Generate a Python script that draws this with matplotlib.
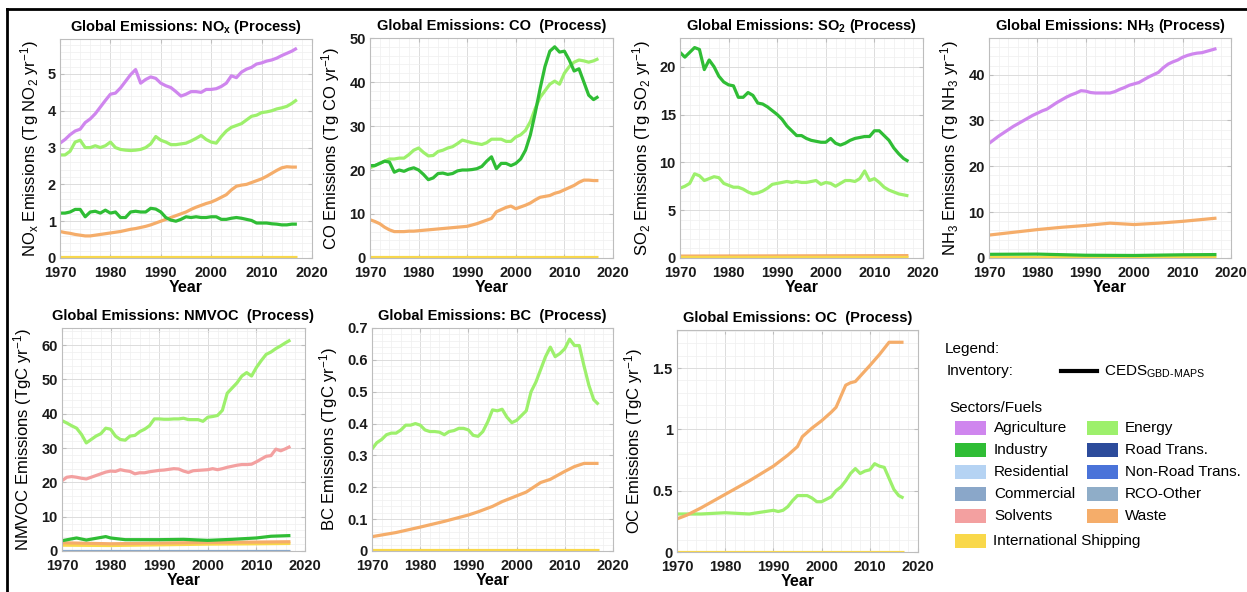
import matplotlib
matplotlib.use("Agg")
import matplotlib.pyplot as plt
from matplotlib.ticker import AutoMinorLocator, FuncFormatter, MultipleLocator
from matplotlib.lines import Line2D
from matplotlib.patches import Rectangle

plt.rcParams['font.family'] = ['Liberation Sans', 'DejaVu Sans']
plt.rcParams['mathtext.fontset'] = 'custom'
plt.rcParams['mathtext.rm'] = 'Liberation Sans'
plt.rcParams['mathtext.bf'] = 'Liberation Sans:bold'
plt.rcParams['mathtext.it'] = 'Liberation Sans:italic'
plt.rcParams['mathtext.default'] = 'regular'

# ---------------- data ----------------
years = list(range(1970, 2018))

nox_agriculture = [3.12, 3.22, 3.35, 3.45, 3.5, 3.68, 3.78, 3.92, 4.1, 4.28,
                   4.45, 4.48, 4.62, 4.8, 4.98, 5.12, 4.75, 4.85, 4.92, 4.88,
                   4.75, 4.68, 4.63, 4.52, 4.4, 4.45, 4.52, 4.52, 4.5, 4.58,
                   4.58, 4.6, 4.66, 4.75, 4.95, 4.9, 5.05, 5.13, 5.18, 5.27,
                   5.3, 5.35, 5.38, 5.43, 5.5, 5.56, 5.62, 5.7]
nox_energy = [2.8, 2.8, 2.9, 3.15, 3.2, 3.0, 3.0, 3.05, 3.0, 3.05,
              3.15, 3.0, 2.95, 2.93, 2.92, 2.93, 2.95, 3.0, 3.1, 3.3,
              3.2, 3.15, 3.08, 3.08, 3.1, 3.12, 3.18, 3.25, 3.33, 3.22,
              3.15, 3.12, 3.3, 3.45, 3.55, 3.6, 3.65, 3.75, 3.85, 3.88,
              3.95, 3.97, 4.0, 4.05, 4.08, 4.12, 4.2, 4.3]
nox_industry = [1.22, 1.22, 1.25, 1.32, 1.32, 1.12, 1.25, 1.27, 1.22, 1.3,
                1.22, 1.25, 1.1, 1.1, 1.25, 1.27, 1.25, 1.25, 1.35, 1.33,
                1.25, 1.1, 1.03, 1.0, 1.05, 1.12, 1.1, 1.12, 1.1, 1.1,
                1.12, 1.12, 1.05, 1.05, 1.08, 1.1, 1.08, 1.05, 1.02, 0.95,
                0.95, 0.95, 0.93, 0.92, 0.9, 0.9, 0.92, 0.92]
nox_waste = [0.72, 0.69, 0.67, 0.64, 0.62, 0.6, 0.6, 0.62, 0.64, 0.66,
             0.68, 0.7, 0.72, 0.75, 0.78, 0.8, 0.83, 0.86, 0.9, 0.95,
             1.0, 1.05, 1.1, 1.15, 1.2, 1.25, 1.32, 1.38, 1.43, 1.48,
             1.52, 1.58, 1.65, 1.72, 1.85, 1.95, 1.98, 2.0, 2.05, 2.1,
             2.15, 2.22, 2.3, 2.38, 2.45, 2.48, 2.47, 2.47]
nox_shipping_years = [1970, 2017]
nox_shipping = [0.02, 0.02]

co_industry = [21, 21, 21.5, 22, 21.8, 19.5, 20, 19.7, 20.2, 20.5,
               20, 19, 17.8, 18.2, 19.2, 19.3, 19, 19.2, 19.8, 20,
               20, 20.1, 20.3, 20.8, 22, 23, 20.3, 21.5, 21.5, 21,
               21.5, 22.5, 24.5, 28, 33, 38.5, 43.5, 47, 48, 46.8,
               47, 45, 42.5, 43, 40, 37, 36, 36.7]
co_energy = [20.5, 21, 21.5, 22, 22.5, 22.5, 22.7, 22.7, 23.5, 24.5,
             25, 24, 23.2, 23.3, 24.2, 24.5, 25, 25.3, 26, 26.8,
             26.5, 26.2, 26, 25.8, 26.2, 27, 27, 27, 26.5, 26.5,
             27.5, 28, 29, 31, 34, 36.5, 38, 39.5, 40.2, 39.5,
             42, 43.5, 44.5, 45, 44.8, 44.5, 44.8, 45.3]
co_waste = [8.7, 8.3, 7.8, 7, 6.4, 6, 6, 6, 6.1, 6.1,
            6.2, 6.3, 6.4, 6.5, 6.6, 6.7, 6.8, 6.9, 7, 7.1,
            7.2, 7.5, 7.8, 8.2, 8.6, 9, 10.5, 11, 11.5, 11.8,
            11.2, 11.6, 12, 12.5, 13.2, 13.8, 14, 14.2, 14.7, 15,
            15.5, 16, 16.5, 17.2, 17.7, 17.7, 17.6, 17.6]
co_shipping_years = [1970, 2017]
co_shipping = [0.15, 0.15]

so2_industry = [21.5, 21, 21.5, 22, 21.8, 19.7, 20.7, 20, 19, 18.4,
                18.1, 18, 16.8, 16.8, 17.3, 17, 16.2, 16.1, 15.8, 15.4,
                15, 14.5, 13.8, 13.3, 12.8, 12.8, 12.5, 12.3, 12.2, 12.1,
                12.1, 12.5, 12, 11.8, 12, 12.3, 12.5, 12.6, 12.7, 12.7,
                13.3, 13.3, 12.8, 12.3, 11.5, 10.9, 10.4, 10.1]
so2_energy = [7.3, 7.5, 7.8, 8.8, 8.6, 8.1, 8.3, 8.5, 8.4, 7.8,
              7.6, 7.4, 7.4, 7.2, 6.9, 6.7, 6.8, 7, 7.3, 7.7,
              7.8, 7.9, 8, 7.9, 8, 7.9, 7.9, 8, 8.1, 7.7,
              7.9, 7.8, 7.5, 7.8, 8.1, 8.1, 8, 8.3, 9.1, 8.1,
              8.3, 7.9, 7.4, 7.1, 6.9, 6.7, 6.6, 6.5]
so2_waste_years = [1970, 2017]
so2_waste = [0.2, 0.25]
so2_shipping_years = [1970, 2017]
so2_shipping = [0.08, 0.08]

nh3_agriculture = [25, 25.8, 26.6, 27.3, 28, 28.7, 29.3, 29.9, 30.5, 31.1,
                   31.6, 32.1, 32.5, 33.2, 33.9, 34.5, 35.1, 35.6, 36, 36.5,
                   36.4, 36.1, 36, 36, 36, 36, 36.3, 36.8, 37.2, 37.7,
                   38, 38.3, 38.9, 39.5, 40, 40.5, 41.5, 42.3, 42.8, 43.2,
                   43.8, 44.2, 44.5, 44.7, 44.8, 45.1, 45.4, 45.7]
nh3_waste_years = [1970, 1975, 1980, 1985, 1990, 1995, 2000, 2005, 2010, 2017]
nh3_waste = [5, 5.6, 6.2, 6.7, 7.1, 7.6, 7.3, 7.6, 8.0, 8.7]
nh3_industry_years = [1970, 1980, 1990, 2000, 2010, 2017]
nh3_industry = [0.8, 0.85, 0.6, 0.55, 0.7, 0.75]
nh3_shipping_years = [1970, 2017]
nh3_shipping = [0.2, 0.2]

nmvoc_energy = [38, 37.3, 36.5, 35.8, 34, 31.5, 32.5, 33.5, 34.2, 35.8,
                35.5, 33.5, 32.5, 32.3, 33.5, 33.7, 34.8, 35.5, 36.5, 38.5,
                38.5, 38.4, 38.4, 38.5, 38.5, 38.7, 38.3, 38.3, 38.3, 37.8,
                39, 39.2, 39.5, 41, 46, 47.5, 49, 51, 52, 51,
                53.5, 55.5, 57.3, 58, 59, 59.8, 60.7, 61.5]
nmvoc_solvents = [20.5, 21.5, 21.7, 21.5, 21.2, 21, 21.5, 22, 22.5, 23,
                  23.3, 23.2, 23.7, 23.4, 23.2, 22.5, 22.8, 22.8, 23.1, 23.3,
                  23.5, 23.6, 23.8, 24, 23.9, 23.3, 22.9, 23.4, 23.5, 23.6,
                  23.7, 24, 23.7, 24, 24.4, 24.7, 25, 25.2, 25.2, 25.3,
                  26, 26.8, 27.6, 27.8, 29.7, 29.2, 29.8, 30.5]
nmvoc_industry_years = [1970, 1973, 1975, 1979, 1980, 1983, 1990, 1995, 2000, 2005, 2010, 2013, 2017]
nmvoc_industry = [3, 3.8, 3.2, 4.2, 3.8, 3.3, 3.3, 3.4, 3.1, 3.4, 3.8, 4.3, 4.5]
nmvoc_waste_years = [1970, 1980, 1990, 2000, 2010, 2017]
nmvoc_waste = [2.4, 2.1, 2.3, 2.5, 2.6, 2.7]
nmvoc_shipping_years = [1970, 1980, 1990, 2000, 2010, 2017]
nmvoc_shipping = [1.7, 1.6, 1.8, 2.0, 2.1, 2.2]
nmvoc_commercial_years = [1970, 2017]
nmvoc_commercial = [0.1, 0.1]

bc_energy = [0.32, 0.34, 0.35, 0.365, 0.37, 0.37, 0.38, 0.395, 0.395, 0.4,
             0.395, 0.38, 0.375, 0.375, 0.373, 0.365, 0.375, 0.378, 0.385, 0.385,
             0.38, 0.363, 0.36, 0.375, 0.405, 0.443, 0.44, 0.445, 0.42, 0.403,
             0.41, 0.425, 0.44, 0.5, 0.53, 0.57, 0.61, 0.64, 0.61, 0.62,
             0.635, 0.665, 0.645, 0.645, 0.58, 0.52, 0.475, 0.46]
bc_waste_years = [1970, 1975, 1980, 1985, 1990, 1992, 1995, 1997, 2000, 2002,
                  2005, 2007, 2010, 2012, 2014, 2017]
bc_waste = [0.045, 0.058, 0.075, 0.093, 0.113, 0.123, 0.14, 0.155, 0.173, 0.185,
            0.215, 0.225, 0.25, 0.265, 0.275, 0.275]
bc_shipping_years = [1970, 2017]
bc_shipping = [0.002, 0.002]

oc_waste_years = [1970, 1972, 1975, 1980, 1985, 1990, 1993, 1995, 1996, 1998,
                  2000, 2002, 2003, 2004, 2005, 2006, 2007, 2010, 2012, 2014, 2017]
oc_waste = [0.27, 0.3, 0.36, 0.47, 0.58, 0.7, 0.79, 0.86, 0.94, 1.01,
            1.07, 1.14, 1.18, 1.27, 1.36, 1.38, 1.39, 1.52, 1.61, 1.71, 1.71]
oc_energy_years = [1970, 1975, 1980, 1985, 1990, 1991, 1992, 1993, 1994, 1995,
                   1997, 1998, 1999, 2000, 2001, 2002, 2003, 2004, 2005, 2006,
                   2007, 2008, 2009, 2010, 2011, 2012, 2013, 2014, 2015, 2016, 2017]
oc_energy = [0.31, 0.31, 0.32, 0.31, 0.34, 0.33, 0.34, 0.37, 0.42, 0.46,
             0.46, 0.44, 0.41, 0.41, 0.43, 0.45, 0.5, 0.53, 0.58, 0.64,
             0.68, 0.64, 0.66, 0.67, 0.72, 0.7, 0.69, 0.6, 0.51, 0.46, 0.44]
oc_shipping_years = [1970, 2017]
oc_shipping = [0.004, 0.004]

sector_colors = {
    'Agriculture': '#cf86ee',
    'Energy': '#9df06c',
    'Industry': '#2fbd35',
    'Road Trans.': '#2c4b9b',
    'Residential': '#b5d3f3',
    'Non-Road Trans.': '#4a73d9',
    'Commercial': '#8aa7c9',
    'RCO-Other': '#8fadc8',
    'Solvents': '#f3a0a0',
    'Waste': '#f5ad6a',
    'International Shipping': '#f9d84a',
}
legend_left = ['Agriculture', 'Industry', 'Residential', 'Commercial', 'Solvents']
legend_right = ['Energy', 'Road Trans.', 'Non-Road Trans.', 'RCO-Other', 'Waste']

# ---------------- layout ----------------
W, H = 1247, 592
fig = plt.figure(figsize=(W / 100, H / 100), dpi=100)


def add_ax(x0, x1, ytop, ybot):
    return fig.add_axes([x0 / W, 1 - ybot / H, (x1 - x0) / W, (ybot - ytop) / H])


def fmt(v, pos):
    return '%g' % v


panels = [
    dict(box=(60, 312, 39, 258), title='Global Emissions: $\\mathbf{NO_x}$ (Process)',
         ylabel='NO$_x$ Emissions (Tg NO$_2$ yr$^{-1}$)', ylim=5.95, major=1,
         series=[('Waste', years, nox_waste), ('Industry', years, nox_industry),
                 ('Energy', years, nox_energy), ('Agriculture', years, nox_agriculture),
                 ('International Shipping', nox_shipping_years, nox_shipping)]),
    dict(box=(370, 613, 38, 258), title='Global Emissions: CO  (Process)',
         ylabel='CO Emissions (Tg CO yr$^{-1}$)', ylim=50, major=10,
         series=[('Waste', years, co_waste), ('Energy', years, co_energy),
                 ('Industry', years, co_industry),
                 ('International Shipping', co_shipping_years, co_shipping)]),
    dict(box=(680, 923, 38, 258), title='Global Emissions: $\\mathbf{SO_2}$ (Process)',
         ylabel='SO$_2$ Emissions (Tg SO$_2$ yr$^{-1}$)', ylim=23, major=5,
         series=[('Energy', years, so2_energy), ('Industry', years, so2_industry),
                 ('Waste', so2_waste_years, so2_waste),
                 ('International Shipping', so2_shipping_years, so2_shipping)]),
    dict(box=(989, 1231, 38, 258), title='Global Emissions: $\\mathbf{NH_3}$ (Process)',
         ylabel='NH$_3$ Emissions (Tg NH$_3$ yr$^{-1}$)', ylim=48, major=10,
         series=[('Agriculture', years, nh3_agriculture),
                 ('Waste', nh3_waste_years, nh3_waste),
                 ('International Shipping', nh3_shipping_years, nh3_shipping),
                 ('Industry', nh3_industry_years, nh3_industry)]),
    dict(box=(62, 305, 328, 551), title='Global Emissions: NMVOC  (Process)',
         ylabel='NMVOC Emissions (TgC yr$^{-1}$)', ylim=65, major=10,
         series=[('Energy', years, nmvoc_energy), ('Solvents', years, nmvoc_solvents),
                 ('Commercial', nmvoc_commercial_years, nmvoc_commercial),
                 ('International Shipping', nmvoc_shipping_years, nmvoc_shipping),
                 ('Waste', nmvoc_waste_years, nmvoc_waste),
                 ('Industry', nmvoc_industry_years, nmvoc_industry)]),
    dict(box=(372, 613, 328, 551), title='Global Emissions: BC  (Process)',
         ylabel='BC Emissions (TgC yr$^{-1}$)', ylim=0.70, major=0.1,
         series=[('Energy', years, bc_energy), ('Waste', bc_waste_years, bc_waste),
                 ('International Shipping', bc_shipping_years, bc_shipping)]),
    dict(box=(677, 918, 330, 552), title='Global Emissions: OC  (Process)',
         ylabel='OC Emissions (TgC yr$^{-1}$)', ylim=1.81, major=0.5,
         series=[('Energy', oc_energy_years, oc_energy), ('Waste', oc_waste_years, oc_waste),
                 ('International Shipping', oc_shipping_years, oc_shipping)]),
]

for p in panels:
    ax = add_ax(*p['box'])
    for name, xs, ys in p['series']:
        ax.plot(xs, ys, color=sector_colors[name], lw=2.3, solid_capstyle='butt',
                solid_joinstyle='round')
    ax.set_xlim(1970, 2020)
    ax.set_ylim(0, p['ylim'])
    ax.xaxis.set_major_locator(MultipleLocator(10))
    ax.yaxis.set_major_locator(MultipleLocator(p['major']))
    ax.xaxis.set_minor_locator(AutoMinorLocator(5))
    ax.yaxis.set_minor_locator(AutoMinorLocator(5))
    ax.yaxis.set_major_formatter(FuncFormatter(fmt))
    ax.grid(True, which='major', color='#dcdcdc', lw=0.7)
    ax.grid(True, which='minor', color='#efefef', lw=0.5)
    ax.set_axisbelow(True)
    for s in ax.spines.values():
        s.set_color('#bdbdbd')
        s.set_linewidth(0.8)
    ax.tick_params(which='both', direction='in', color='#bdbdbd', top=True, right=True)
    ax.tick_params(which='major', length=3, labelsize=10.5)
    ax.tick_params(axis='x', which='major', pad=6)
    ax.tick_params(axis='y', which='major', pad=3)
    ax.tick_params(which='minor', length=0)
    for lab in ax.get_xticklabels() + ax.get_yticklabels():
        lab.set_fontweight('bold')
        lab.set_color('#1a1a1a')
    ax.set_title(p['title'], fontsize=10.5, fontweight='bold', pad=6)
    ax.set_xlabel('Year', fontsize=11.5, fontweight='bold', labelpad=0)
    ax.set_ylabel(p['ylabel'], fontsize=12, labelpad=5)

# ---------------- legend ----------------
fs = 11
fig.text(945 / W, 1 - 349 / H, 'Legend:', fontsize=fs, va='center', ha='left')
fig.text(947 / W, 1 - 371 / H, 'Inventory:', fontsize=fs, va='center', ha='left')
fig.add_artist(Line2D([1061 / W, 1097 / W], [1 - 371 / H, 1 - 371 / H], color='black', lw=3))
fig.text(1104 / W, 1 - 372 / H, 'CEDS$_{GBD\\text{-}MAPS}$', fontsize=fs, va='center', ha='left')
fig.text(949 / W, 1 - 408 / H, 'Sectors/Fuels', fontsize=fs, va='center', ha='left')

row_y = [428, 450, 472, 494, 516]
for names, px, tx in [(legend_left, 955, 994), (legend_right, 1087, 1125)]:
    for name, yy in zip(names, row_y):
        fig.add_artist(Rectangle((px / W, 1 - (yy + 7) / H), 31 / W, 14 / H,
                                 transform=fig.transFigure, color=sector_colors[name], lw=0))
        fig.text(tx / W, 1 - yy / H, name, fontsize=fs, va='center', ha='left')
yy = 541
fig.add_artist(Rectangle((955 / W, 1 - (yy + 7) / H), 31 / W, 14 / H,
                         transform=fig.transFigure, color=sector_colors['International Shipping'], lw=0))
fig.text(993 / W, 1 - yy / H, 'International Shipping', fontsize=fs, va='center', ha='left')

# frame lines of the figure
fig.add_artist(Line2D([7 / W, 1], [1 - 9 / H, 1 - 9 / H], color='black', lw=2))
fig.add_artist(Line2D([7 / W, 7 / W], [0, 1 - 9 / H], color='black', lw=2))

fig.savefig('out.png', dpi=100, facecolor='white')
